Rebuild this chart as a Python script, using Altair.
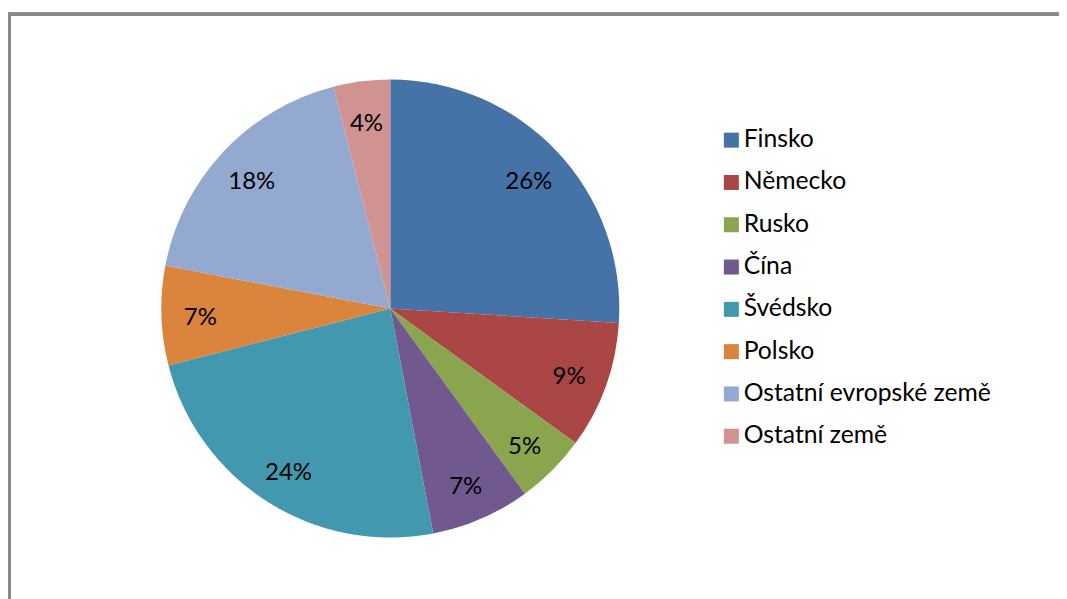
import altair as alt
import pandas as pd

countries = ["Finsko", "Německo", "Rusko", "Čína", "Švédsko", "Polsko",
             "Ostatní evropské země", "Ostatní země"]
shares = [26, 9, 5, 7, 24, 7, 18, 4]
colors = ["#4572A7", "#AA4643", "#89A54E", "#71588F", "#4198AF", "#DB843D",
          "#93A9CF", "#D19392"]

df = pd.DataFrame({
    "country": countries,
    "share": shares,
    "idx": list(range(len(countries))),
    "label": [f"{s}%" for s in shares],
})

W, H = 1049, 600
cx, cy = 390.3 - 9.5, 308.5 - 14.3
border_color = "#898989"

base = alt.Chart(df).encode(
    theta=alt.Theta("share:Q", stack=True),
    order=alt.Order("idx:Q"),
)

pie = base.mark_arc(outerRadius=229).encode(
    color=alt.Color(
        "country:N",
        scale=alt.Scale(domain=countries, range=colors),
        legend=alt.Legend(
            title=None,
            orient="none",
            legendX=709.5,
            legendY=113.5,
            symbolType="square",
            symbolSize=225,
            symbolStrokeWidth=0,
            symbolOpacity=1,
            labelFont="Lato",
            labelFontSize=24.7,
            labelColor="black",
            labelOffset=0,
            rowPadding=16.3,
            padding=0,
            labelLimit=400,
        ),
    ),
    x=alt.value(cx),
    y=alt.value(cy),
)

text = base.mark_text(radius=190, dy=4, fontSize=24, font="Lato", color="black").encode(
    text="label:N",
    x=alt.value(cx),
    y=alt.value(cy),
)

top_border = alt.Chart(df).mark_rule(color=border_color, strokeWidth=3).encode(
    x=alt.value(-1.5), x2=alt.value(W + 20), y=alt.value(0)
)
left_border = alt.Chart(df).mark_rule(color=border_color, strokeWidth=3).encode(
    x=alt.value(0), y=alt.value(-1.5), y2=alt.value(H + 20)
)

chart = (top_border + left_border + pie + text).properties(
    width=W,
    height=H,
    padding={"left": 1.5, "top": 6.3, "right": 0, "bottom": 0},
    autosize="none",
).configure_view(stroke=None)

chart.save("out.html", embed_options={"renderer": "svg", "actions": False})
